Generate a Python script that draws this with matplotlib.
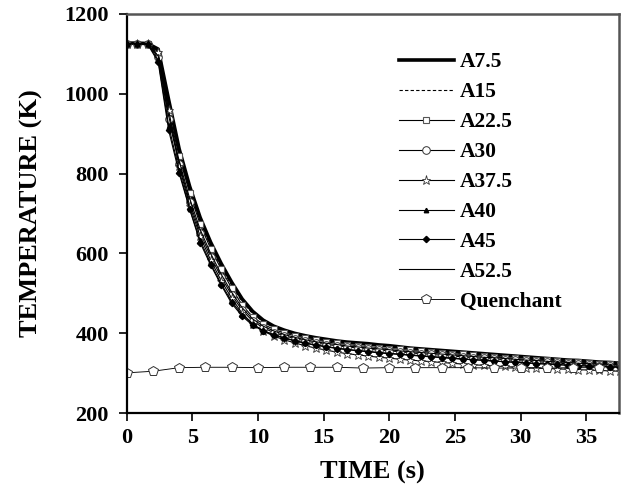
import matplotlib
matplotlib.use('Agg')

import matplotlib.pyplot as plt
import numpy as np

# time grid of the specimen curves (s), one sample every 0.8 s
time = [0.0, 0.8, 1.6, 2.4, 3.2, 4.0, 4.8, 5.6, 6.4, 7.2, 8.0, 8.8, 9.6, 10.4,
        11.2, 12.0, 12.8, 13.6, 14.4, 15.2, 16.0, 16.8, 17.6, 18.4, 19.2, 20.0,
        20.8, 21.6, 22.4, 23.2, 24.0, 24.8, 25.6, 26.4, 27.2, 28.0, 28.8, 29.6,
        30.4, 31.2, 32.0, 32.8, 33.6, 34.4, 35.2, 36.0, 36.8, 37.6]

a7_5 = [1127, 1127, 1126, 1112, 985, 862, 768, 690, 628, 575, 528, 486, 455, 433,
        418, 408, 400, 394, 389, 385, 381, 378, 376, 374, 371, 369, 366, 363, 361,
        359, 357, 355, 353, 351, 349, 347, 345, 343, 341, 339, 337, 335, 333, 332,
        330, 328, 327, 325]
a15 = [1127, 1127, 1126, 1105, 975, 850, 758, 680, 618, 566, 520, 479, 449, 429,
       415, 405, 397, 391, 386, 382, 378, 375, 373, 370, 368, 366, 363, 361, 358,
       356, 354, 352, 350, 348, 346, 344, 342, 341, 339, 337, 335, 333, 332, 330,
       328, 327, 325, 324]
a22_5 = [1126, 1126, 1125, 1100, 955, 844, 751, 673, 612, 561, 513, 471, 441, 423,
         410, 401, 394, 388, 383, 379, 375, 372, 369, 367, 364, 362, 360, 357, 355,
         353, 351, 349, 347, 345, 343, 341, 339, 337, 335, 334, 332, 330, 329, 327,
         326, 324, 323, 321]
a30 = [1126, 1126, 1125, 1092, 937, 825, 728, 652, 592, 541, 496, 458, 431, 414,
       402, 394, 387, 381, 376, 372, 369, 366, 363, 360, 358, 356, 354, 351, 349,
       347, 345, 343, 341, 339, 337, 336, 334, 332, 330, 329, 327, 325, 324, 322,
       321, 319, 318, 317]
a37_5 = [1126, 1126, 1125, 1105, 960, 819, 720, 643, 583, 532, 488, 450, 424, 406,
         393, 384, 376, 369, 363, 358, 353, 349, 346, 343, 340, 338, 335, 333, 331,
         329, 327, 325, 323, 321, 320, 318, 317, 315, 314, 313, 312, 311, 310, 309,
         308, 307, 306, 305]
a40 = [1126, 1126, 1125, 1085, 920, 808, 712, 633, 575, 524, 480, 446, 422, 407,
       397, 389, 382, 376, 371, 367, 363, 360, 357, 355, 352, 350, 348, 346, 344,
       342, 340, 338, 336, 334, 333, 331, 329, 328, 326, 325, 323, 322, 320, 319,
       318, 317, 316, 315]
a45 = [1126, 1126, 1124, 1080, 909, 801, 711, 627, 571, 521, 475, 443, 420, 406,
       396, 388, 381, 375, 370, 366, 362, 359, 356, 354, 351, 349, 347, 345, 343,
       341, 339, 337, 335, 334, 332, 330, 329, 327, 326, 324, 323, 322, 320, 319,
       318, 317, 316, 315]
a52_5 = [1126, 1126, 1125, 1095, 945, 832, 738, 660, 600, 548, 503, 464, 436, 418,
         406, 397, 390, 384, 379, 375, 372, 368, 366, 363, 361, 359, 356, 354, 352,
         350, 348, 346, 344, 342, 340, 339, 337, 335, 333, 332, 330, 328, 327, 325,
         324, 322, 321, 320]

# quenchant temperature, sampled every 2 s
time_q = [0, 2, 4, 6, 8, 10, 12, 14, 16, 18, 20, 22, 24, 26, 28, 30, 32, 34, 36]
quench = [301, 305, 314, 315, 315, 314, 315, 315, 315, 313, 314, 314, 314, 314,
          313, 313, 313, 314, 314]

plt.rcParams['font.family'] = ['Liberation Serif', 'DejaVu Serif']
plt.rcParams['font.weight'] = 'bold'

fig = plt.figure(figsize=(6.3, 4.99), dpi=100)
ax = fig.add_axes([0.201, 0.172, 0.7815, 0.8])

thin = 0.8
ax.plot(time, a7_5, color='black', lw=2.6, label='A7.5')
ax.plot(time, a15, color='black', lw=thin, dashes=(3, 2), label='A15')
ax.plot(time, a22_5, color='black', lw=thin, marker='s', ms=4,
        mfc='white', mec='#555555', mew=0.8, label='A22.5')
ax.plot(time, a30, color='black', lw=thin, marker='o', ms=5.5,
        mfc='white', mec='#333333', mew=0.7, label='A30')
ax.plot(time, a37_5, color='black', lw=thin, marker='*', ms=6.5,
        mfc='white', mec='#333333', mew=0.6, label='A37.5')
ax.plot(time, a40, color='black', lw=thin, marker='^', ms=3.2,
        mfc='black', mec='black', label='A40')
ax.plot(time, a45, color='black', lw=thin, marker='D', ms=3.2,
        mfc='black', mec='black', label='A45')
ax.plot(time, a52_5, color='black', lw=thin, label='A52.5')
ax.plot(time_q, quench, color='black', lw=thin * 0.8, marker='p', ms=7,
        mfc='white', mec='#333333', mew=0.7, label='Quenchant')

ax.set_xlim(0, 37.5)
ax.set_ylim(200, 1200)
ax.set_xticks(np.arange(0, 36, 5))
ax.set_yticks(np.arange(200, 1201, 200))

for side in ['left', 'bottom']:
    ax.spines[side].set_linewidth(1.6)
    ax.spines[side].set_color('black')
for side in ['top', 'right']:
    ax.spines[side].set_linewidth(1.8)
    ax.spines[side].set_color('#555555')

ax.tick_params(axis='both', direction='out', length=6, width=1.2,
               labelsize=16, top=False, right=False)
ax.tick_params(axis='y', pad=7)
ax.tick_params(axis='x', pad=5)
for lab in ax.get_xticklabels() + ax.get_yticklabels():
    lab.set_fontweight('bold')

ax.set_xlabel('TIME (s)', fontsize=19, fontweight='bold', labelpad=9)
ax.set_ylabel('TEMPERATURE (K)', fontsize=19, fontweight='bold', labelpad=15)

leg = ax.legend(loc='upper left', bbox_to_anchor=(0.535, 0.926), frameon=False,
                fontsize=15.5, handlelength=2.56, handletextpad=0.3,
                labelspacing=0.46, borderaxespad=0)
for t in leg.get_texts():
    t.set_fontweight('bold')

plt.savefig('out.png', dpi=100)
